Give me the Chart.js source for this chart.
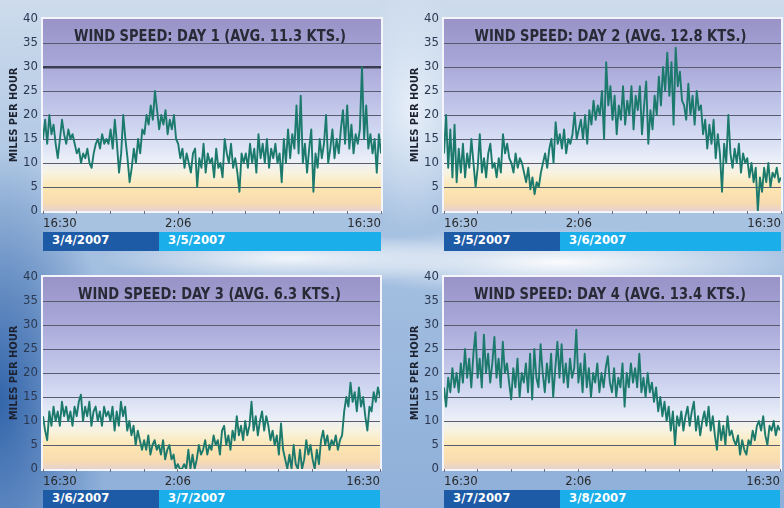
<!DOCTYPE html>
<html>
<head>
<meta charset="utf-8">
<script src="https://cdn.jsdelivr.net/npm/chart.js@4.4.1/dist/chart.umd.min.js"></script>
<style>
  html, body { margin: 0; padding: 0; }
  body {
    width: 784px; height: 508px; overflow: hidden; position: relative;
    background:
      radial-gradient(ellipse 250px 34px at 560px 262px, rgba(255,255,255,0.95), rgba(255,255,255,0) 100%),
      radial-gradient(ellipse 190px 26px at 290px 258px, rgba(255,255,255,0.85), rgba(255,255,255,0) 100%),
      radial-gradient(ellipse 70px 120px at 412px 110px, rgba(235,242,250,0.9), rgba(235,242,250,0) 100%),
      radial-gradient(ellipse 110px 250px at 0px 400px, rgba(40,92,165,0.9), rgba(40,92,165,0) 100%),
      linear-gradient(180deg, #cddbec 0%, #a9c3e2 40%, #8eafd9 100%);
  }
  canvas { position: absolute; }
  .bar { position: absolute; height: 19px; line-height: 19px; color: #fff;
         font: bold 13px 'DejaVu Sans Condensed', sans-serif; box-sizing: border-box; padding-left: 9px; }
</style>
</head>
<body>
<script>
const timeLabels = ['16:30', '', '', '', '2:06', '', '', '', '', '', '16:30'];
const dayTitles = [
    'WIND SPEED: DAY 1 (AVG. 11.3 KTS.)',
    'WIND SPEED: DAY 2 (AVG. 12.8 KTS.)',
    'WIND SPEED: DAY 3 (AVG. 6.3 KTS.)',
    'WIND SPEED: DAY 4 (AVG. 13.4 KTS.)'
];
const dayDates = [
    ['3/4/2007', '3/5/2007'],
    ['3/5/2007', '3/6/2007'],
    ['3/6/2007', '3/7/2007'],
    ['3/7/2007', '3/8/2007']
];

// miles per hour, one value every 9 minutes from 16:30 to 16:30
const day1Speed = [
    15,19,14,20,16,18,14,11,15,19,16,14,17,15,16,14,
    12,13,10,12,11,13,10,9,12,14,15,13,16,14,15,14,
    17,13,19,14,8,12,20,15,11,6,9,13,10,15,12,17,
    16,20,18,22,19,25,21,17,20,18,21,16,19,17,20,15,
    14,11,13,9,12,10,8,12,13,5,11,9,14,8,12,10,
    11,7,13,9,10,7,15,12,10,14,9,11,8,4,12,10,
    12,9,14,10,13,8,16,11,14,10,15,9,13,11,14,10,
    12,6,15,10,17,11,16,13,22,12,24,10,14,8,13,17,
    4,12,9,15,11,14,20,10,13,17,11,15,12,17,21,14,
    22,13,18,12,16,14,17,30,15,22,13,16,12,15,8,16,
    12
];
const day2Speed = [
    12,20,9,17,7,18,6,13,8,14,7,12,9,15,10,5,
    9,16,8,11,7,12,14,9,10,7,11,8,16,12,14,11,
    10,8,12,9,11,10,8,6,9,4.5,7,3.5,6,5,8,10,
    12,9,13,15,10,18.5,14,16,13,17,12,15,14,16,20.5,15,
    17,19,15,20,14,21,18,23,19,22,20,25,15,31,22,26,
    19,24,16,22,19,26,18,23,20,26,17,24,21,26,16,22,
    27,14,21,17,24,20,28,22,30,25,33,24,31,18,34,26,
    29,23,22,19,26.5,20,24,18,25,21,22,16,19,13,18,14,
    19,11,16,12,4,14,10,20,12,9,13,10,14,8,12,10,
    11,7,10,6,9,0,7,4,9,6,10,5,8,7,9,6,
    7
];
const day3Speed = [
    11,8,6,12,9,13,10,12,9,14,11,13,10,12,9,13,
    11,14,15.5,10,13,11,14,9,12,13,10,12,9,13,11,12,
    10,13,8,12,9,14,11,13,8,10,7,9,5,8,6,4,
    6,4,7,3,5,6,4,5,3,6,2,4,5,2,3,0,
    1,0,0,1,0,4,0,3,0,2,5,3,4,6,3,5,
    4,7,5,6,3,8,9,5,7,4,8,6,11,7,9,6,
    10,7,9,14,8,11,7,10,12,8,11,9,6,8,5,7,
    3,9.5,4,2,0,3,0,5,1,0,4,0,2,6,3,5,
    2,0,4,1,6,8,5,7,4,6,5,7,4,6,7,12,
    15,13,18,14,16,12,17,13,15,11,8,13,12,16,14,17,
    15
];
const day4Speed = [
    17,13,19,16,21,17,20,16,22,18,25,19,23,17,24,28.5,
    19,23,17,28,20,24,18,22,27.5,19,23,17,26.5,20,22,18,
    14.5,21,17,23,15,20,18,22,16,24,14.5,25,19,17,26,20,
    16,22,18,24,15,21,26.5,19,26,18,22,17,23,19,21,29,
    18,22,16,24,17,21,15,20,18,22,16,20,17,21,23.5,18,
    16,21,15,19,17,22,13,20,17,22,18,21,17,24,16,19,
    15,20,16,18,14,17,12,15,11,14,10,13,8,12,5,11,
    9,12,8,11,13,9,12,14,8,11,7,10,12,9,13,8,
    11,7,4,10,6,9,5,11,7,8,6,5,7,3,6,4,
    3,6,5,8,6,9,10,8,11,7,5,9,8,10,7,9,
    8
];
const speeds = [day1Speed, day2Speed, day3Speed, day4Speed];
const heavyGrid = [30, null, null, null];

const panels = [
    { left: 0, top: 0, padLeft: 6, padRight: 11 },
    { left: 392, top: 0, padLeft: 15, padRight: 3 },
    { left: 0, top: 258, padLeft: 6, padRight: 12 },
    { left: 392, top: 258, padLeft: 15, padRight: 4 }
];

const narrow = "'Liberation Sans Narrow', 'DejaVu Sans Condensed', sans-serif";
const condensed = "'DejaVu Sans Condensed', sans-serif";

// plot background, white frame and the title written inside the plot
const plotDeco = {
    id: 'plotDeco',
    beforeDraw(chart) {
        const { ctx, chartArea: a } = chart;
        const g = ctx.createLinearGradient(0, a.top, 0, a.bottom);
        g.addColorStop(0, '#9993c7');
        g.addColorStop(0.2, '#a6a4d6');
        g.addColorStop(0.42, '#bcc0e6');
        g.addColorStop(0.62, '#d6ddf3');
        g.addColorStop(0.73, '#e9eef8');
        g.addColorStop(0.8, '#f8f3e0');
        g.addColorStop(0.88, '#fde6b2');
        g.addColorStop(0.96, '#f7dbb0');
        g.addColorStop(1, '#e6d2cf');
        ctx.save();
        ctx.fillStyle = g;
        ctx.fillRect(a.left, a.top, a.width, a.height);
        ctx.strokeStyle = '#f3f5fb';
        ctx.lineWidth = 2;
        ctx.strokeRect(a.left - 1, a.top - 1, a.width + 2, a.height + 2);
        ctx.restore();
    },
    afterDraw(chart, args, opts) {
        const { ctx, chartArea: a } = chart;
        ctx.save();
        ctx.font = 'bold 16px ' + condensed;
        const sx = 272 / ctx.measureText(dayTitles[0]).width;
        ctx.translate((a.left + a.right) / 2 - 2, chart.scales.y.getPixelForValue(35) - 2);
        ctx.scale(sx, 1);
        ctx.fillStyle = '#282a36';
        ctx.textAlign = 'center';
        ctx.textBaseline = 'alphabetic';
        ctx.fillText(opts.title, 0, 0);
        ctx.restore();
    }
};

function makePanel(i) {
    const p = panels[i];
    const heavy = heavyGrid[i];
    const canvas = document.createElement('canvas');
    canvas.width = 392;
    canvas.height = 232;
    canvas.style.left = p.left + 'px';
    canvas.style.top = p.top + 'px';
    document.body.appendChild(canvas);

    const chart = new Chart(canvas, {
        type: 'line',
        data: {
            datasets: [{
                data: speeds[i].map((v, k) => ({ x: k, y: v })),
                borderColor: '#1c7a6d',
                borderWidth: 1.9,
                pointRadius: 0,
                tension: 0,
                borderJoinStyle: 'round'
            }]
        },
        options: {
            responsive: false,
            animation: false,
            devicePixelRatio: 1,
            layout: { padding: { left: p.padLeft, right: p.padRight, top: 19, bottom: 0 } },
            plugins: {
                legend: { display: false },
                tooltip: { enabled: false },
                plotDeco: { title: dayTitles[i] }
            },
            scales: {
                x: {
                    type: 'linear', min: 0, max: 160,
                    afterFit: s => { s.height = 21; },
                    border: { display: false },
                    grid: { drawOnChartArea: false, drawTicks: true, tickLength: 3, tickColor: '#6a6f82' },
                    ticks: {
                        stepSize: 16, autoSkip: false, maxRotation: 0, align: 'inner', padding: 2,
                        color: '#2a2a2a', font: { family: narrow, size: 13 },
                        callback: (v, k) => timeLabels[k]
                    }
                },
                y: {
                    min: 0, max: 40,
                    afterFit: s => { s.width = 37; },
                    border: { display: false },
                    grid: {
                        drawTicks: false,
                        color: c => (c.tick.value === 0 || c.tick.value === 40) ? 'rgba(0,0,0,0)'
                            : (c.tick.value === heavy ? '#3a3e52' : '#575c70'),
                        lineWidth: c => c.tick.value === heavy ? 2.5 : 1
                    },
                    ticks: { stepSize: 5, padding: 5, color: '#2b3852', font: { family: narrow, size: 13 } },
                    title: {
                        display: true, text: 'MILES PER HOUR', color: '#1c2230',
                        font: { family: condensed, size: 11, weight: 'bold' },
                        padding: { top: 2, bottom: 0 }
                    }
                }
            }
        },
        plugins: [plotDeco]
    });

    const a = chart.chartArea;
    const barTop = p.top + 232;
    const dark = document.createElement('div');
    dark.className = 'bar';
    dark.style.left = (p.left + a.left) + 'px';
    dark.style.top = barTop + 'px';
    dark.style.width = '116px';
    dark.style.background = '#1e5ba6';
    dark.textContent = dayDates[i][0];
    const light = document.createElement('div');
    light.className = 'bar';
    light.style.left = (p.left + a.left + 116) + 'px';
    light.style.top = barTop + 'px';
    light.style.width = (a.width - 116) + 'px';
    light.style.background = '#1aaeea';
    light.textContent = dayDates[i][1];
    document.body.appendChild(dark);
    document.body.appendChild(light);
}

for (let i = 0; i < 4; i++) makePanel(i);
</script>
</body>
</html>
